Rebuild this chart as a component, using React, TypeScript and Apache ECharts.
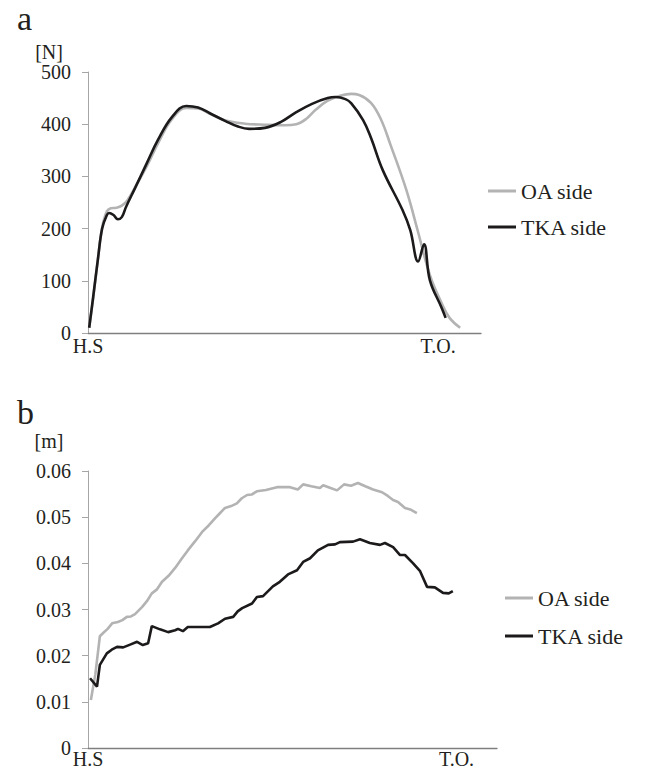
import React, { useEffect, useRef } from "react";
import * as echarts from "echarts";

// Panel a: vertical ground reaction force [N], x = % of stance (H.S -> T.O.)
const oaForce: [number, number][] = [
  [0.3, 10], [1.3, 66], [2.5, 140], [3.6, 202], [4.8, 233], [5.8, 239], [7.2, 240], [8.6, 244],
  [10, 254], [12.5, 286], [15, 320], [18, 366], [21.4, 410], [25, 431], [28, 430], [31, 420],
  [35, 407], [40, 401], [45, 399], [50, 398], [53, 400], [55.5, 410], [58, 428], [61, 445],
  [64, 454], [67, 458], [69, 456], [72, 441], [74.5, 410], [77, 360], [81, 274], [84, 193],
  [87, 111], [90, 57], [92, 29], [94.7, 10],
];
const tkaForce: [number, number][] = [
  [0.3, 10], [1.3, 68], [2.5, 140], [3.6, 200], [4.8, 226], [5.4, 230], [6.5, 226], [7.6, 218],
  [8.6, 222], [9.7, 242], [12, 278], [15, 326], [17.8, 370], [21.4, 414], [25, 435], [28, 432],
  [31, 421], [35, 406], [38, 396], [41, 391], [45, 393], [49, 404], [53, 423], [57, 439],
  [61, 450], [63, 452], [65.5, 448], [67, 440], [70, 408], [72, 374], [75, 312], [80, 236],
  [82, 197], [84, 137], [85.5, 170], [87, 101], [90, 48], [91, 29],
];

// Panel b: displacement [m]
const oaDisp: [number, number][] = [
  [0.7, 0.0104], [1.8, 0.016], [2.9, 0.0242], [3.7, 0.0249], [4.8, 0.0258], [5.9, 0.027],
  [7.3, 0.0273], [8.4, 0.0277], [9.5, 0.0284], [10.5, 0.0285], [11.5, 0.029], [13.2, 0.0305],
  [14.4, 0.0318], [15.6, 0.0335], [16.8, 0.0343], [18.1, 0.036], [19.7, 0.0373], [21.3, 0.039],
  [22.9, 0.041], [24.4, 0.0428], [26.2, 0.0448], [27.9, 0.0468], [29.5, 0.0482], [31.1, 0.0498],
  [32.3, 0.0509], [33.5, 0.052], [35, 0.0524], [36.4, 0.053], [37.6, 0.0541], [38.9, 0.0548],
  [40, 0.0549], [41.3, 0.0556], [43.5, 0.0559], [46.2, 0.0565], [49.4, 0.0565], [51.3, 0.056],
  [52.6, 0.0571], [54.6, 0.0567], [56.7, 0.0563], [57.5, 0.0569], [59.3, 0.0563], [60.9, 0.0558],
  [62.6, 0.0571], [64.3, 0.0568], [66.0, 0.0574], [67.8, 0.0567], [69.7, 0.056], [71.9, 0.0554],
  [73.3, 0.0546], [74.6, 0.0537], [75.8, 0.0533], [77.5, 0.052], [79, 0.0516], [80.4, 0.0509],
];
const tkaDisp: [number, number][] = [
  [0.5, 0.0151], [2.2, 0.0133], [2.9, 0.018], [4.6, 0.0205], [5.8, 0.0213], [7.1, 0.0219],
  [8.6, 0.0218], [10.3, 0.0224], [12.0, 0.023], [13.4, 0.0223], [14.7, 0.0227], [15.6, 0.0264],
  [17.6, 0.0257], [19.6, 0.0251], [21.3, 0.0255], [22.0, 0.0258], [23.2, 0.0253], [24.4, 0.0262],
  [27, 0.0262], [29.8, 0.0262], [31.8, 0.027], [33.5, 0.028], [35.5, 0.0284], [36.6, 0.0296],
  [37.7, 0.0303], [40.1, 0.0313], [41.3, 0.0327], [42.8, 0.0329], [45.2, 0.035], [46.9, 0.036],
  [48.9, 0.0376], [51.1, 0.0385], [52.6, 0.0403], [54.3, 0.0411], [56.2, 0.0428], [58.7, 0.044],
  [60.4, 0.0441], [61.6, 0.0446], [64.8, 0.0447], [66.5, 0.0452], [67.8, 0.0448], [68.9, 0.0444],
  [71.4, 0.044], [72.6, 0.0444], [74.6, 0.0435], [76.3, 0.0418], [77.5, 0.0418], [79.5, 0.04],
  [81.2, 0.0383], [82.9, 0.0349], [84.8, 0.0348], [86.8, 0.0336], [88.2, 0.0335], [89.2, 0.034],
];

const xTickLabels = ["H.S", "T.O."];
const xTicksA = [0, 89.1];
const xTicksB = [0, 90.1];
const seriesNames = ["OA side", "TKA side"];

const FONT = "Liberation Serif";
const TXT = "#231f20";
const GRAY = "#b3b3b3";
const BLACK = "#1c1a1b";

export default function App() {
  const ref = useRef<HTMLDivElement>(null);
  useEffect(() => {
    if (!ref.current) return;
    const chart = echarts.init(ref.current, undefined, { renderer: "svg" });

    const xAxis = (gridIndex: number, ticks: number[], margin: number) => ({
      gridIndex,
      type: "value",
      min: 0,
      max: 100,
      axisLine: { show: true, lineStyle: { color: "#7f7f7f", width: 1.3 } },
      axisTick: { show: false },
      splitLine: { show: false },
      axisLabel: {
        customValues: ticks,
        margin,
        fontFamily: FONT,
        fontSize: 20,
        color: TXT,
        formatter: (v: number) => {
          const i = ticks.findIndex((t) => Math.abs(t - v) < 1e-6);
          return i >= 0 ? xTickLabels[i] : "";
        },
      },
    });

    const yAxis = (gridIndex: number, max: number, interval: number, name: string, nameGap: number) => ({
      gridIndex,
      type: "value",
      min: 0,
      max,
      interval,
      name,
      nameLocation: "end",
      nameGap,
      nameTextStyle: { fontFamily: FONT, fontSize: 20, color: TXT, align: "center", padding: [0, 78, 0, 0] },
      axisLine: { show: true, lineStyle: { color: "#a6a6a6", width: 1 } },
      axisTick: { show: true, length: 6, lineStyle: { color: "#a6a6a6" } },
      splitLine: { show: false },
      axisLabel: { margin: 17, fontFamily: FONT, fontSize: 20, color: TXT },
    });

    const line = (name: string, data: [number, number][], idx: number, color: string, smooth: boolean) => ({
      name,
      type: "line",
      xAxisIndex: idx,
      yAxisIndex: idx,
      data,
      symbol: "none",
      smooth: smooth ? 0.4 : false,
      lineStyle: { color, width: 2.6 },
      itemStyle: { color },
    });

    const legend = (top: number, left: number, itemGap: number) => ({
      data: seriesNames,
      orient: "vertical",
      left,
      top,
      itemGap,
      icon: "rect",
      itemWidth: 28,
      itemHeight: 3,
      selectedMode: false,
      textStyle: { fontFamily: FONT, fontSize: 22, color: TXT, lineHeight: 22 },
    });

    chart.setOption({
      animation: false,
      backgroundColor: "#ffffff",
      title: [
        { text: "a", left: 12, top: -4, textStyle: { fontFamily: FONT, fontSize: 34, fontWeight: "normal", color: TXT } },
        { text: "b", left: 12, top: 390, textStyle: { fontFamily: FONT, fontSize: 34, fontWeight: "normal", color: TXT } },
      ],
      legend: [legend(175, 483, 14), legend(582, 500, 16)],
      grid: [
        { left: 88, top: 72, width: 393, height: 261 },
        { left: 88, top: 471, width: 409, height: 277 },
      ],
      xAxis: [xAxis(0, xTicksA, 3), xAxis(1, xTicksB, 1)],
      yAxis: [yAxis(0, 500, 100, "[N]", 10), yAxis(1, 0.06, 0.01, "[m]", 20)],
      series: [
        line(seriesNames[0], oaForce, 0, GRAY, true),
        line(seriesNames[1], tkaForce, 0, BLACK, true),
        line(seriesNames[0], oaDisp, 1, GRAY, false),
        line(seriesNames[1], tkaDisp, 1, BLACK, false),
      ],
    });
    return () => chart.dispose();
  }, []);
  return <div ref={ref} style={{ position: "fixed", left: 0, top: 0, width: 648, height: 776 }} />;
}
